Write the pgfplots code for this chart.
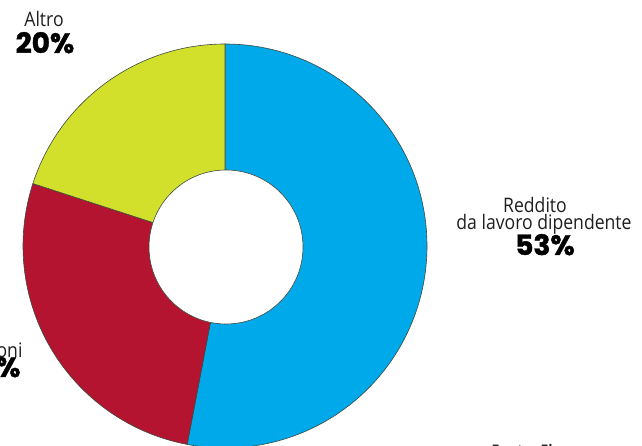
\documentclass[border=0pt]{standalone}
\usepackage{fontspec}
\setmainfont{Open Sans}[FakeStretch=0.88]
\newfontfamily\pctfont{Poppins}[BoldFeatures={FakeBold=1.5}]
\usepackage{pgfplots}
\usepackage{pgfplotstable}
\pgfplotsset{compat=1.18}
\definecolor{cblue}{HTML}{00A9E9}
\definecolor{cred}{HTML}{B4142F}
\definecolor{cyel}{HTML}{D3E02B}
\definecolor{cline}{HTML}{3C4A40}
\pgfplotstableread{
label value
Reddito 53
Pensioni 27
Altro 20
}\piedata
\begin{document}
\begin{tikzpicture}
\pgfplotstablegetelem{0}{value}\of\piedata \let\vA\pgfplotsretval
\pgfplotstablegetelem{1}{value}\of\piedata \let\vB\pgfplotsretval
\pgfplotstablegetelem{2}{value}\of\piedata \let\vC\pgfplotsretval
\pgfmathsetmacro{\aA}{90}
\pgfmathsetmacro{\aB}{90-3.6*\vA}
\pgfmathsetmacro{\aC}{\aB-3.6*\vB}
\pgfmathsetmacro{\aD}{\aC-3.6*\vC}
\begin{axis}[
  hide axis, scale only axis,
  width=642pt, height=446pt,
  xmin=0, xmax=642, ymin=0, ymax=446,
  clip=true,
]
\addplot[draw=none] coordinates {(0,0) (642,446)};
\fill[cblue, draw=cline, line width=0.6pt] (axis cs:225,200) -- ++(\aA:202pt) arc[start angle=\aA, end angle=\aB, radius=202pt] -- cycle;
\fill[cred, draw=cline, line width=0.6pt] (axis cs:225,200) -- ++(\aB:202pt) arc[start angle=\aB, end angle=\aC, radius=202pt] -- cycle;
\fill[cyel, draw=cline, line width=0.6pt] (axis cs:225,200) -- ++(\aC:202pt) arc[start angle=\aC, end angle=\aD, radius=202pt] -- cycle;
\fill[white, draw=cline, line width=0.6pt] (axis cs:226,199) circle[radius=77pt];
% labels
\node[anchor=base, font=\fontsize{20}{23}\selectfont, text=black!88] at (axis cs:44,419) {Altro};
\node[anchor=base, font=\pctfont\bfseries\fontsize{28}{31}\selectfont] at (axis cs:45,393) {20\%};
\node[anchor=base, font=\fontsize{20}{23}\selectfont, text=black!88] at (axis cs:535,233) {Reddito};
\node[anchor=base, font=\fontsize{20}{23}\selectfont, text=black!88] at (axis cs:544,216) {da lavoro dipendente};
\node[anchor=base, font=\pctfont\bfseries\fontsize{28}{31}\selectfont] at (axis cs:545,191) {53\%};
\node[anchor=base east, font=\fontsize{20}{23}\selectfont, text=black!88] at (axis cs:26,88) {Pensioni};
\node[anchor=base east, font=\pctfont\bfseries\fontsize{28}{31}\selectfont] at (axis cs:24,69) {27\%};
\node[anchor=base west, font=\bfseries\fontsize{16}{18}\selectfont, text=black!85] at (axis cs:488,-11) {Fonte: Finanze};
\end{axis}
\pgfresetboundingbox
\path[use as bounding box] (current axis.south west) rectangle (current axis.north east);
\end{tikzpicture}
\end{document}
